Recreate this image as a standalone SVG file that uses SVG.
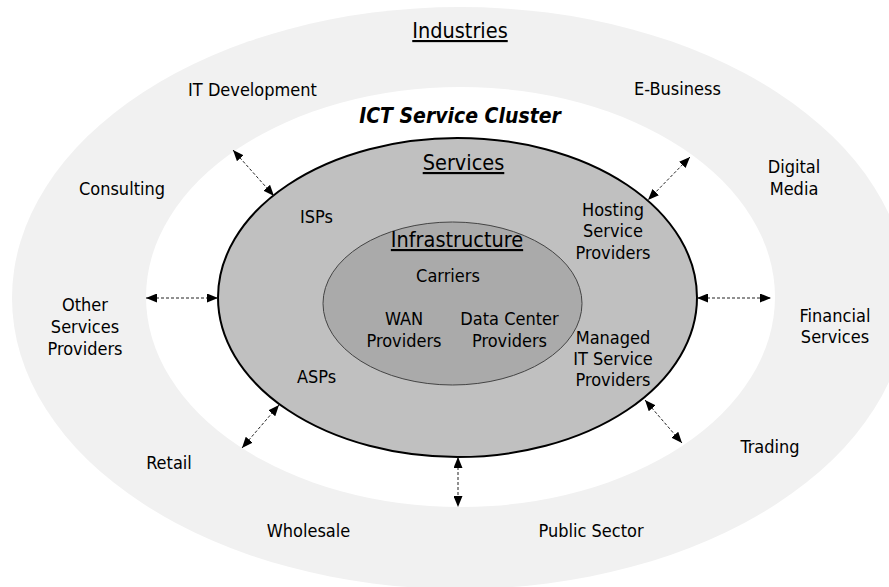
<svg xmlns="http://www.w3.org/2000/svg" width="889" height="587" viewBox="0 0 889 587">
  <style>
    text { font-family: "DejaVu Sans Condensed", "DejaVu Sans", sans-serif; font-stretch: condensed; fill: #000; text-anchor: middle; }
    .lbl { font-size: 18px; }
    .head { font-size: 21.5px; text-decoration: underline; }
    .title { font-size: 21px; font-weight: bold; font-style: italic; }
    .link { stroke: #222; stroke-width: 1; stroke-dasharray: 3 2; fill: none; marker-start: url(#tip); marker-end: url(#tip); }
  </style>
  <defs>
    <marker id="tip" viewBox="0 0 11 9" refX="11" refY="4.5" markerWidth="11" markerHeight="9" markerUnits="userSpaceOnUse" orient="auto-start-reverse">
      <path d="M0,0 L11,4.5 L0,9 Z" fill="#000"/>
    </marker>
  </defs>

  <!-- industries ring -->
  <g id="industries">
    <ellipse cx="460" cy="298" rx="448" ry="291" fill="#f1f1f1"/>
    <ellipse cx="460.5" cy="297" rx="314.5" ry="210" fill="#ffffff"/>
    <text class="head" x="460" y="38">Industries</text>
    <text class="title" x="460" y="123">ICT Service Cluster</text>
  </g>

  <!-- services layer -->
  <g id="services">
    <ellipse cx="457.5" cy="297.5" rx="239.5" ry="159.5" fill="#c0c0c0" stroke="#000" stroke-width="2"/>
    <text class="head" x="463.5" y="170">Services</text>
  </g>

  <!-- infrastructure core -->
  <g id="infrastructure">
    <ellipse cx="452.5" cy="303.5" rx="129.5" ry="81.5" fill="#aaaaaa" stroke="#444" stroke-width="1"/>
    <text class="head" x="457" y="247">Infrastructure</text>
  </g>

  <g id="carriers"><text class="lbl" x="448" y="282">Carriers</text></g>
  <g id="wan-providers">
    <text class="lbl" x="404" y="325">WAN</text>
    <text class="lbl" x="404" y="347">Providers</text>
  </g>
  <g id="data-center-providers">
    <text class="lbl" x="509.5" y="325">Data Center</text>
    <text class="lbl" x="509.5" y="347">Providers</text>
  </g>

  <g id="isps"><text class="lbl" x="316.5" y="223">ISPs</text></g>
  <g id="asps"><text class="lbl" x="316.5" y="383">ASPs</text></g>
  <g id="hosting-service-providers">
    <text class="lbl" x="613" y="216">Hosting</text>
    <text class="lbl" x="613" y="237">Service</text>
    <text class="lbl" x="613" y="259">Providers</text>
  </g>
  <g id="managed-it-service-providers">
    <text class="lbl" x="613" y="344">Managed</text>
    <text class="lbl" x="613" y="365">IT Service</text>
    <text class="lbl" x="613" y="386">Providers</text>
  </g>

  <g id="it-development"><text class="lbl" x="252.5" y="96">IT Development</text></g>
  <g id="e-business"><text class="lbl" x="677.5" y="95">E-Business</text></g>
  <g id="consulting"><text class="lbl" x="122" y="195">Consulting</text></g>
  <g id="digital-media">
    <text class="lbl" x="794" y="173">Digital</text>
    <text class="lbl" x="794" y="195">Media</text>
  </g>
  <g id="other-services-providers">
    <text class="lbl" x="85" y="311">Other</text>
    <text class="lbl" x="85" y="333">Services</text>
    <text class="lbl" x="85" y="355">Providers</text>
  </g>
  <g id="financial-services">
    <text class="lbl" x="835" y="322">Financial</text>
    <text class="lbl" x="835" y="343">Services</text>
  </g>
  <g id="retail"><text class="lbl" x="169" y="469">Retail</text></g>
  <g id="trading"><text class="lbl" x="770" y="453">Trading</text></g>
  <g id="wholesale"><text class="lbl" x="308.5" y="537">Wholesale</text></g>
  <g id="public-sector"><text class="lbl" x="591" y="537">Public Sector</text></g>

  <!-- two-way links between the cluster and the industries -->
  <g id="connectors">
    <line class="link" x1="233" y1="150" x2="274" y2="196"/>
    <line class="link" x1="690" y1="157" x2="648" y2="200"/>
    <line class="link" x1="146" y1="298" x2="218" y2="298"/>
    <line class="link" x1="697" y1="298" x2="771" y2="298"/>
    <line class="link" x1="242" y1="448" x2="279" y2="405"/>
    <line class="link" x1="645" y1="400" x2="682" y2="443"/>
    <line class="link" x1="458" y1="457" x2="458" y2="507"/>
  </g>
</svg>
